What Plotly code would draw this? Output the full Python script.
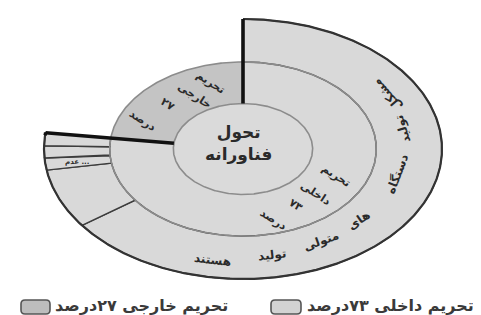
import numpy as np
import plotly.graph_objects as go

# ---------------- data ----------------
center_lines = ["تحول", "فناورانه"]
inner_names = ["تحریم داخلی ۷۳ درصد", "تحریم خارجی ۲۷ درصد"]
inner_words = [["تحریم", "داخلی", "۷۳", "درصد"], ["تحریم", "خارجی", "۲۷", "درصد"]]
inner_share = [77.0, 23.0]            # share of the circle as drawn (percent)
outer_share = [65.0, 7.4, 1.5, 1.5, 1.6]   # children of "تحریم داخلی" (percent)
outer_words = ["مشکل", "تولید", "دستگاه", "های", "متولی", "تولید", "هستند"]
small_label = "عدم ..."
legend_labels = ["تحریم خارجی ۲۷درصد", "تحریم داخلی ۷۳درصد"]

# ---------------- styling / layout constants ----------------
W, H = 481, 315
CX, CY, RX, RY = 235, 141, 199, 130       # pixel centre & outer radii
R0, R1, R2 = 0.35, 0.67, 1.0              # ring radii (relative)
C_IN, C_EX, C_CENTER = "#d9d9d9", "#c4c4c4", "#dadada"
FONT = "DejaVu Sans"
TXT = "#2a2a2a"

# label placements (angle clockwise from top in degrees, radius)
outer_word_pos = [(60.0, 0.84), (79.0, 0.82), (104.0, 0.80), (133.0, 0.80),
                  (151.0, 0.81), (170.0, 0.83), (190.0, 0.87)]
inner_word_pos = [[(114, 0.51), (133.3, 0.50), (148.3, 0.51), (164.3, 0.56)],
                  [(342.6, 0.54), (329.4, 0.48), (312.5, 0.51), (293.5, 0.55)]]


def xy(r, t):
    ph = np.radians(90 - np.asarray(t, dtype=float))
    return r * np.cos(ph), r * np.sin(ph)


def arc_t(a, b):
    n = max(int(abs(b - a) / 0.5) + 2, 3)
    return np.linspace(a, b, n)


def sector(r_in, r_out, a, b):
    t = arc_t(a, b)
    xo, yo = xy(r_out, t)
    if r_in > 0:
        xi, yi = xy(r_in, t[::-1])
    else:
        xi, yi = np.array([0.0]), np.array([0.0])
    x = np.concatenate([xo, xi, xo[:1]])
    y = np.concatenate([yo, yi, yo[:1]])
    return x, y


fig = go.Figure()

# angles from shares
deg_inner = np.cumsum([0] + [s * 3.6 for s in inner_share])
deg_outer = np.cumsum([0] + [s * 3.6 for s in outer_share])

# centre disk
x, y = sector(0, R0, 0, 360)
fig.add_trace(go.Scatter(x=x, y=y, fill="toself", fillcolor=C_CENTER, mode="lines",
                         line=dict(width=0), hoverinfo="skip", showlegend=False))
# inner ring
for i, col in enumerate([C_IN, C_EX]):
    x, y = sector(R0, R1, deg_inner[i], deg_inner[i + 1])
    fig.add_trace(go.Scatter(x=x, y=y, fill="toself", fillcolor=col, mode="lines",
                             line=dict(width=0), name=inner_names[i], showlegend=False,
                             hoverinfo="name"))
# outer ring segments
for i in range(len(outer_share)):
    x, y = sector(R1, R2, deg_outer[i], deg_outer[i + 1])
    fig.add_trace(go.Scatter(x=x, y=y, fill="toself", fillcolor=C_IN, mode="lines",
                             line=dict(width=1.4, color="#3c3c3c"), hoverinfo="skip",
                             showlegend=False))

# circle outlines
for r in (R0, R1):
    x, y = xy(r, arc_t(0, 360))
    fig.add_trace(go.Scatter(x=x, y=y, mode="lines", line=dict(width=1.6, color="#8c8c8c"),
                             hoverinfo="skip", showlegend=False))
# outer edge of outer ring
x, y = xy(R2, arc_t(0, deg_outer[-1]))
fig.add_trace(go.Scatter(x=x, y=y, mode="lines", line=dict(width=2.2, color="#333333"),
                         hoverinfo="skip", showlegend=False))
# thick separators between the two sanctions
for t in (deg_inner[0], deg_inner[1]):
    x, y = xy(np.array([R0, R2]), np.array([t, t]))
    fig.add_trace(go.Scatter(x=x, y=y, mode="lines", line=dict(width=3.6, color="#111111"),
                             hoverinfo="skip", showlegend=False))
x, y = xy(R2, arc_t(deg_inner[1] - 1.2, deg_inner[1] + 0.1))
fig.add_trace(go.Scatter(x=x, y=y, mode="lines", line=dict(width=3.4, color="#111111"),
                         hoverinfo="skip", showlegend=False))

# ---------------- text ----------------
ann = []
ann.append(dict(x=-0.025, y=0.045, xref="x", yref="y", showarrow=False,
                text="<br>".join(center_lines), font=dict(family=FONT, size=17, color=TXT,
                                                          weight="bold"),
                align="center"))
for k in range(2):
    for w, (t, r) in zip(inner_words[k], inner_word_pos[k]):
        px, py = xy(r, t)
        ann.append(dict(x=float(px), y=float(py), xref="x", yref="y", showarrow=False,
                        text=w, textangle=33,
                        font=dict(family=FONT, size=11, color=TXT, weight="bold")))
for w, (t, r) in zip(outer_words, outer_word_pos):
    px, py = xy(r, t)
    ph = np.radians(90 - t)
    ang = np.degrees(np.arctan2(-RY * np.cos(ph), -RX * np.sin(ph)))
    ann.append(dict(x=float(px), y=float(py), xref="x", yref="y", showarrow=False,
                    text=w, textangle=float(ang),
                    font=dict(family=FONT, size=12, color=TXT, weight="bold")))
tc = (deg_outer[2] + deg_outer[3]) / 2
px, py = xy(0.84, tc)
ann.append(dict(x=float(px), y=float(py), xref="x", yref="y", showarrow=False,
                text=small_label, font=dict(family=FONT, size=7, color=TXT, weight="bold")))

# legend (manual)
shapes = []
leg = [(13, 42, 45, "#bdbdbd"), (263, 293, 297, "#d3d3d3")]
for (x0, x1, tx, col), lab in zip(leg, legend_labels):
    y0, y1 = 292, 306
    rr = 4
    X0, X1 = x0 / W, x1 / W
    Y0, Y1 = 1 - y1 / H, 1 - y0 / H
    dx, dy = rr / W, rr / H
    path = (f"M{X0+dx},{Y0} L{X1-dx},{Y0} Q{X1},{Y0} {X1},{Y0+dy} L{X1},{Y1-dy} "
            f"Q{X1},{Y1} {X1-dx},{Y1} L{X0+dx},{Y1} Q{X0},{Y1} {X0},{Y1-dy} "
            f"L{X0},{Y0+dy} Q{X0},{Y0} {X0+dx},{Y0} Z")
    shapes.append(dict(type="path", path=path, xref="paper", yref="paper",
                       fillcolor=col, line=dict(color="#555555", width=1.6)))
    ann.append(dict(x=tx / W, y=1 - 297 / H, xref="paper", yref="paper", showarrow=False,
                    xanchor="left", yanchor="middle", text=lab,
                    font=dict(family=FONT, size=16, color="#3a3a3a", weight="bold")))

fig.update_layout(
    width=W, height=H, margin=dict(l=0, r=0, t=0, b=0),
    paper_bgcolor="white", plot_bgcolor="white",
    xaxis=dict(range=[-CX / RX, (W - CX) / RX], visible=False, fixedrange=True),
    yaxis=dict(range=[(CY - H) / RY, CY / RY], visible=False, fixedrange=True),
    annotations=ann, shapes=shapes, showlegend=False,
)
fig.write_html("out.html")
